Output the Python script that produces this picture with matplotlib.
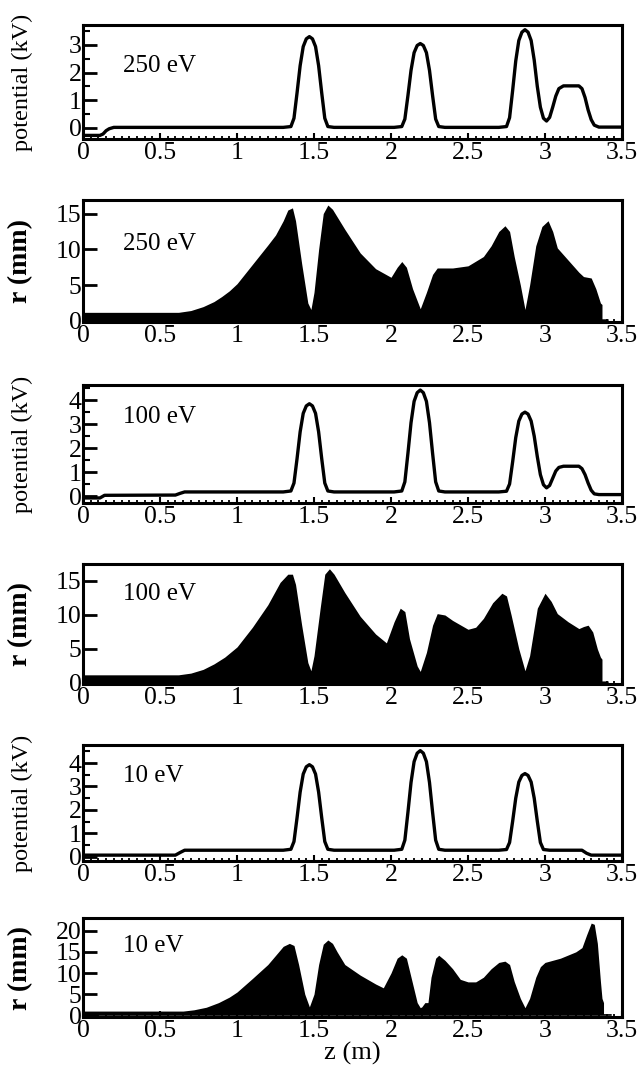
import matplotlib
matplotlib.use("Agg")
import matplotlib.pyplot as plt
from matplotlib.ticker import MultipleLocator, FormatStrFormatter

plt.rcParams['font.family'] = ['Liberation Serif', 'DejaVu Serif']

# potential on axis, 250 eV
pot250_z = [0, 0.11, 0.13, 0.15, 0.17, 0.20,
            1.30, 1.35, 1.37, 1.39, 1.41, 1.43, 1.45, 1.47, 1.49, 1.51, 1.53, 1.55, 1.57, 1.59, 1.63,
            2.02, 2.07, 2.09, 2.11, 2.13, 2.15, 2.17, 2.19, 2.21, 2.23, 2.25, 2.27, 2.29, 2.31, 2.35,
            2.70, 2.75, 2.77, 2.79, 2.81, 2.83, 2.85, 2.87, 2.89, 2.91, 2.93, 2.95, 2.97, 2.99, 3.01,
            3.03, 3.05, 3.07, 3.09, 3.12, 3.22, 3.24, 3.26, 3.28, 3.30, 3.32, 3.35, 3.50]
pot250_v = [-0.27, -0.27, -0.22, -0.10, -0.03, 0.02,
            0.02, 0.05, 0.35, 1.27, 2.25, 2.94, 3.22, 3.3, 3.22, 2.94, 2.25, 1.27, 0.35, 0.05, 0.02,
            0.02, 0.05, 0.32, 1.17, 2.08, 2.72, 2.98, 3.05, 2.98, 2.72, 2.08, 1.17, 0.32, 0.05, 0.02,
            0.02, 0.05, 0.37, 1.36, 2.42, 3.16, 3.46, 3.55, 3.46, 3.16, 2.45, 1.5, 0.75, 0.35, 0.25,
            0.38, 0.75, 1.15, 1.42, 1.52, 1.52, 1.42, 1.1, 0.65, 0.3, 0.1, 0.03, 0.03]

# potential on axis, 100 eV
pot100_z = [0, 0.11, 0.14, 0.60, 0.63, 0.66,
            1.30, 1.35, 1.37, 1.39, 1.41, 1.43, 1.45, 1.47, 1.49, 1.51, 1.53, 1.55, 1.57, 1.59, 1.63,
            2.02, 2.07, 2.09, 2.11, 2.13, 2.15, 2.17, 2.19, 2.21, 2.23, 2.25, 2.27, 2.29, 2.31, 2.35,
            2.70, 2.75, 2.77, 2.79, 2.81, 2.83, 2.85, 2.87, 2.89, 2.91, 2.93, 2.95, 2.97, 2.99, 3.01,
            3.03, 3.05, 3.07, 3.09, 3.12, 3.22, 3.24, 3.26, 3.28, 3.30, 3.32, 3.35, 3.50]
pot100_v = [-0.07, -0.07, 0.04, 0.05, 0.12, 0.18,
            0.18, 0.22, 0.55, 1.57, 2.68, 3.45, 3.76, 3.85, 3.76, 3.45, 2.68, 1.57, 0.55, 0.22, 0.18,
            0.18, 0.22, 0.6, 1.79, 3.06, 3.95, 4.31, 4.42, 4.31, 3.95, 3.06, 1.79, 0.6, 0.22, 0.18,
            0.18, 0.21, 0.51, 1.44, 2.44, 3.13, 3.42, 3.5, 3.42, 3.13, 2.5, 1.65, 0.9, 0.48, 0.35,
            0.45, 0.75, 1.05, 1.2, 1.25, 1.25, 1.15, 0.9, 0.55, 0.25, 0.1, 0.07, 0.07]

# potential on axis, 10 eV
pot10_z = [0, 0.60, 0.63, 0.66,
           1.30, 1.35, 1.37, 1.39, 1.41, 1.43, 1.45, 1.47, 1.49, 1.51, 1.53, 1.55, 1.57, 1.59, 1.63,
           2.02, 2.07, 2.09, 2.11, 2.13, 2.15, 2.17, 2.19, 2.21, 2.23, 2.25, 2.27, 2.29, 2.31, 2.35,
           2.70, 2.75, 2.77, 2.79, 2.81, 2.83, 2.85, 2.87, 2.89, 2.91, 2.93, 2.95, 2.97, 2.99, 3.03,
           3.24, 3.27, 3.30, 3.50]
pot10_v = [0.07, 0.07, 0.18, 0.28,
           0.28, 0.32, 0.65, 1.67, 2.76, 3.53, 3.84, 3.93, 3.84, 3.53, 2.76, 1.67, 0.65, 0.32, 0.28,
           0.28, 0.32, 0.71, 1.9, 3.17, 4.06, 4.42, 4.53, 4.42, 4.06, 3.17, 1.9, 0.71, 0.32, 0.28,
           0.28, 0.31, 0.61, 1.52, 2.5, 3.19, 3.47, 3.55, 3.47, 3.19, 2.5, 1.52, 0.61, 0.31, 0.28,
           0.28, 0.15, 0.07, 0.07]

# beam envelope r(z), 250 eV
r250_z = [0, 0.62, 0.70, 0.78, 0.85, 0.90, 0.95, 1.00, 1.10, 1.20, 1.25, 1.30, 1.33, 1.36, 1.38,
          1.42, 1.46, 1.48, 1.50, 1.53, 1.56, 1.59, 1.62, 1.70, 1.80, 1.90, 2.00, 2.04, 2.07, 2.10,
          2.14, 2.19, 2.23, 2.27, 2.30, 2.40, 2.50, 2.60, 2.65, 2.70, 2.74, 2.77, 2.80, 2.84, 2.87,
          2.90, 2.94, 2.98, 3.02, 3.05, 3.08, 3.15, 3.22, 3.25, 3.30, 3.33, 3.36, 3.37, 3.37, 3.41,
          3.41]
r250_r = [1.2, 1.2, 1.45, 2.0, 2.7, 3.4, 4.2, 5.2, 7.9, 10.6, 12.0, 14.0, 15.5, 15.8, 14.0,
          8.0, 2.5, 1.6, 4.0, 10.0, 15.0, 16.2, 15.6, 12.8, 9.5, 7.3, 6.1, 7.5, 8.3, 7.5,
          4.5, 1.7, 4.0, 6.5, 7.4, 7.4, 7.7, 9.0, 10.5, 12.5, 13.3, 12.5, 9.0, 5.0, 1.6,
          5.0, 10.5, 13.2, 14.0, 12.5, 10.2, 8.5, 6.8, 6.2, 6.0, 4.5, 2.5, 2.3, 0.3, 0.3,
          0]

# beam envelope r(z), 100 eV
r100_z = [0, 0.62, 0.70, 0.78, 0.85, 0.92, 1.00, 1.10, 1.20, 1.28, 1.33, 1.36, 1.38, 1.42, 1.46,
          1.48, 1.50, 1.54, 1.57, 1.60, 1.63, 1.70, 1.80, 1.90, 1.97, 2.02, 2.06, 2.09, 2.12, 2.17,
          2.19, 2.23, 2.27, 2.30, 2.35, 2.40, 2.50, 2.55, 2.60, 2.66, 2.72, 2.75, 2.78, 2.83, 2.87,
          2.90, 2.95, 3.00, 3.04, 3.08, 3.15, 3.22, 3.25, 3.28, 3.31, 3.34, 3.36, 3.37, 3.37, 3.41,
          3.41]
r100_r = [1.2, 1.2, 1.45, 2.0, 2.8, 3.8, 5.3, 8.2, 11.5, 14.8, 16.0, 16.0, 14.5, 8.5, 3.0,
          1.8, 4.0, 11.0, 16.0, 16.8, 16.0, 13.3, 9.8, 7.2, 5.9, 9.0, 11.0, 10.5, 6.5, 2.5,
          1.7, 4.5, 8.5, 10.2, 10.0, 9.2, 7.9, 8.2, 9.5, 11.8, 13.2, 12.8, 10.0, 5.0, 1.8,
          4.0, 11.0, 13.2, 12.0, 10.2, 9.0, 8.0, 8.3, 8.5, 7.5, 5.0, 3.8, 3.5, 0.3, 0.3,
          0]

# beam envelope r(z), 10 eV
r10_z = [0, 0.65, 0.72, 0.80, 0.88, 0.95, 1.00, 1.10, 1.20, 1.27, 1.30, 1.34, 1.37, 1.40, 1.44,
         1.47, 1.50, 1.53, 1.56, 1.59, 1.62, 1.65, 1.70, 1.80, 1.90, 1.95, 2.00, 2.04, 2.07, 2.10,
         2.13, 2.17, 2.19, 2.20, 2.22, 2.24, 2.26, 2.29, 2.31, 2.35, 2.40, 2.45, 2.50, 2.55, 2.60,
         2.65, 2.70, 2.74, 2.77, 2.80, 2.84, 2.87, 2.90, 2.94, 2.97, 3.00, 3.10, 3.20, 3.24, 3.27,
         3.30, 3.32, 3.34, 3.36, 3.37, 3.38, 3.38, 3.43, 3.43]
r10_r = [1.0, 1.0, 1.3, 1.9, 3.0, 4.3, 5.5, 8.7, 12.0, 15.0, 16.3, 17.0, 16.5, 12.0, 5.0,
         2.0, 5.0, 12.0, 16.8, 17.8, 17.0, 15.0, 12.0, 9.5, 7.4, 6.5, 10.0, 13.5, 14.3, 13.5,
         9.0, 3.0, 1.8, 2.0, 3.0, 3.0, 9.0, 13.5, 14.2, 13.0, 11.0, 8.5, 7.9, 7.9, 9.0,
         11.0, 12.5, 12.8, 12.0, 8.0, 4.0, 1.8, 4.0, 9.0, 11.5, 12.5, 13.5, 15.0, 16.0, 19.0,
         21.8, 21.5, 17.0, 8.0, 4.0, 3.0, 0.4, 0.4, 0]

W, H = 639, 1069
fig = plt.figure(figsize=(W / 100, H / 100), dpi=100)

# (top, bottom) of each panel box in pixels
boxes = [(25, 139), (200, 322), (385, 503), (564, 684), (745, 861), (918, 1017)]
left, right = 83, 622

panels = [
    ('pot', pot250_z, pot250_v, '250 eV', (-0.40, 3.72), 1, 0.64),
    ('r', r250_z, r250_r, '250 eV', (-0.15, 16.9), 5, 0.64),
    ('pot', pot100_z, pot100_v, '100 eV', (-0.28, 4.63), 1, 0.73),
    ('r', r100_z, r100_r, '100 eV', (-0.15, 17.5), 5, 0.75),
    ('pot', pot10_z, pot10_v, '10 eV', (-0.18, 4.77), 1, 0.73),
    ('r', r10_z, r10_r, '10 eV', (-0.40, 23.0), 5, 0.72),
]

for i, (kind, z, y, lab, ylim, step, ty) in enumerate(panels):
    top, bot = boxes[i]
    ax = fig.add_axes([left / W, 1 - bot / H, (right - left) / W, (bot - top) / H])
    if kind == 'pot':
        ax.plot(z, y, color='black', lw=2.4, solid_joinstyle='round')
        ax.set_ylabel('potential (kV)', fontsize=17.5)
        ax.yaxis.set_minor_locator(MultipleLocator(0.5))
    else:
        ax.fill_between(z, y, 0, color='black', lw=0)
        ax.set_ylabel('r (mm)', fontsize=20, fontweight='bold')
        ax.yaxis.set_minor_locator(MultipleLocator(100))
    ax.yaxis.set_label_coords(-0.092, 0.5)
    ax.set_xlim(0, 3.5)
    ax.set_ylim(*ylim)
    ax.xaxis.set_major_locator(MultipleLocator(0.5))
    ax.xaxis.set_minor_locator(MultipleLocator(0.05))
    ax.xaxis.set_major_formatter(FormatStrFormatter('%g'))
    ax.yaxis.set_major_locator(MultipleLocator(step))
    ax.yaxis.set_major_formatter(FormatStrFormatter('%g'))
    ax.tick_params(axis='x', which='major', direction='in', length=4, width=1.5,
                   top=False, labelsize=18.5, pad=2)
    ax.tick_params(axis='x', which='minor', direction='in', length=2.5, width=1.3, top=False)
    ax.tick_params(axis='y', which='major', direction='in', length=10, width=2,
                   right=False, labelsize=18.5, pad=1)
    ax.tick_params(axis='y', which='minor', direction='in', length=5, width=1.5, right=False)
    for s in ax.spines.values():
        s.set_linewidth(2.2)
    ax.text(0.075, ty, lab, transform=ax.transAxes, fontsize=18, va='center', ha='left')
    if i == 5:
        ax.set_xlabel('z (m)', fontsize=19, labelpad=0)

fig.savefig('out.png', dpi=100)
